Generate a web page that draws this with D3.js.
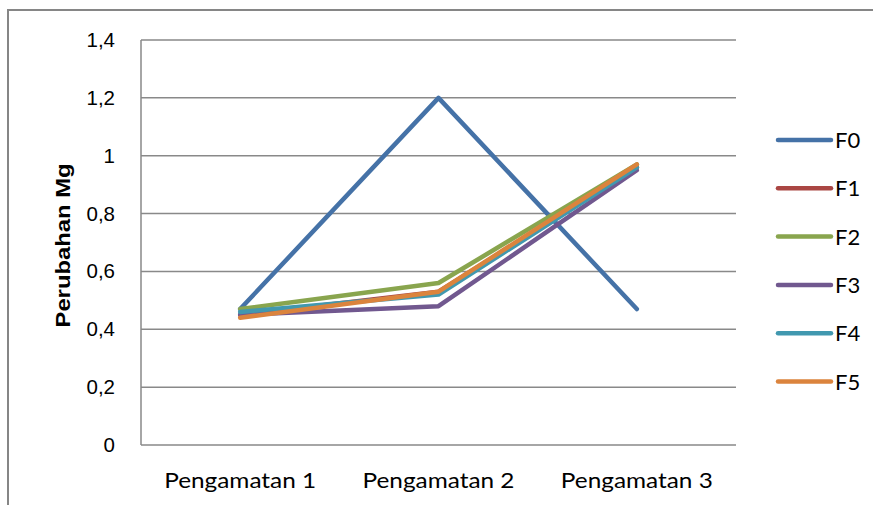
<!DOCTYPE html>
<html>
<head>
<meta charset="utf-8">
<script src="https://cdn.jsdelivr.net/npm/d3@7"></script>
<style>
  body { margin: 0; background: #fff; }
  svg { display: block; }
</style>
</head>
<body>
<svg id="chart" width="873" height="505"></svg>
<script>
// Observation categories and Mg change per treatment
const categories = ["Pengamatan 1", "Pengamatan 2", "Pengamatan 3"];
const seriesNames = ["F0", "F1", "F2", "F3", "F4", "F5"];
const F0 = [0.47, 1.20, 0.47];
const F1 = [0.45, 0.53, 0.96];
const F2 = [0.47, 0.56, 0.97];
const F3 = [0.45, 0.48, 0.95];
const F4 = [0.46, 0.52, 0.96];
const F5 = [0.44, 0.53, 0.97];
const yTicks = [0, 0.2, 0.4, 0.6, 0.8, 1, 1.2, 1.4];
const yTitle = "Perubahan Mg";

const seriesValues = [F0, F1, F2, F3, F4, F5];
const colors = ["#4572A7", "#AA4643", "#89A54E", "#71588F", "#4198AF", "#DB843D"];

const svg = d3.select("#chart");

// outer chart frame
svg.append("rect")
  .attr("x", 8).attr("y", 10)
  .attr("width", 900).attr("height", 600)
  .attr("fill", "none").attr("stroke", "#868686").attr("stroke-width", 2);

const plot = { left: 141, right: 736, top: 40, bottom: 445 };

const x = d3.scalePoint().domain(categories).range([plot.left, plot.right]).padding(0.5);
const y = d3.scaleLinear().domain([0, 1.4]).range([plot.bottom, plot.top]);

// horizontal gridlines
svg.append("g").selectAll("line").data(yTicks).join("line")
  .attr("x1", plot.left).attr("x2", plot.right)
  .attr("y1", d => y(d)).attr("y2", d => y(d))
  .attr("stroke", "#898989").attr("stroke-width", 1.5);

// vertical axis line
svg.append("line")
  .attr("x1", plot.left).attr("x2", plot.left)
  .attr("y1", plot.top).attr("y2", plot.bottom)
  .attr("stroke", "#898989").attr("stroke-width", 1.5);

// y tick labels (comma decimal separator)
const fmt = d => String(+d.toFixed(1)).replace(".", ",");
svg.append("g").selectAll("text").data(yTicks).join("text")
  .attr("x", 115).attr("y", d => y(d) + 7)
  .attr("text-anchor", "end")
  .attr("font-family", "Liberation Sans, Arial, sans-serif")
  .attr("font-size", 20.5)
  .attr("fill", "#000")
  .text(fmt);

// y axis title
svg.append("text")
  .attr("transform", `translate(70,${(plot.top + plot.bottom) / 2 + 3}) rotate(-90)`)
  .attr("text-anchor", "middle")
  .attr("font-family", "Liberation Sans, Arial, sans-serif")
  .attr("font-weight", "bold")
  .attr("font-size", 21)
  .attr("fill", "#000")
  .attr("textLength", 164)
  .attr("lengthAdjust", "spacingAndGlyphs")
  .text(yTitle);

// category labels
svg.append("g").selectAll("text").data(categories).join("text")
  .attr("x", d => x(d)).attr("y", 488)
  .attr("text-anchor", "middle")
  .attr("font-family", "Lato, Carlito, sans-serif")
  .attr("font-size", 22)
  .attr("fill", "#000")
  .attr("textLength", 152)
  .attr("lengthAdjust", "spacingAndGlyphs")
  .text(d => d);

// series lines
const line = d3.line().x((d, i) => x(categories[i])).y(d => y(d));
svg.append("g").selectAll("path").data(seriesValues).join("path")
  .attr("d", d => line(d))
  .attr("fill", "none")
  .attr("stroke", (d, i) => colors[i])
  .attr("stroke-width", 4.5)
  .attr("stroke-linejoin", "round")
  .attr("stroke-linecap", "round");

// legend
const legend = svg.append("g").selectAll("g").data(seriesNames).join("g")
  .attr("transform", (d, i) => `translate(0,${140 + i * 48.3})`);
legend.append("line")
  .attr("x1", 778).attr("x2", 831)
  .attr("y1", 0).attr("y2", 0)
  .attr("stroke", (d, i) => colors[i])
  .attr("stroke-width", 4.5)
  .attr("stroke-linecap", "round");
legend.append("text")
  .attr("x", 835).attr("y", 8)
  .attr("font-family", "Lato, Carlito, sans-serif")
  .attr("font-size", 22)
  .attr("fill", "#000")
  .text(d => d);
</script>
</body>
</html>
